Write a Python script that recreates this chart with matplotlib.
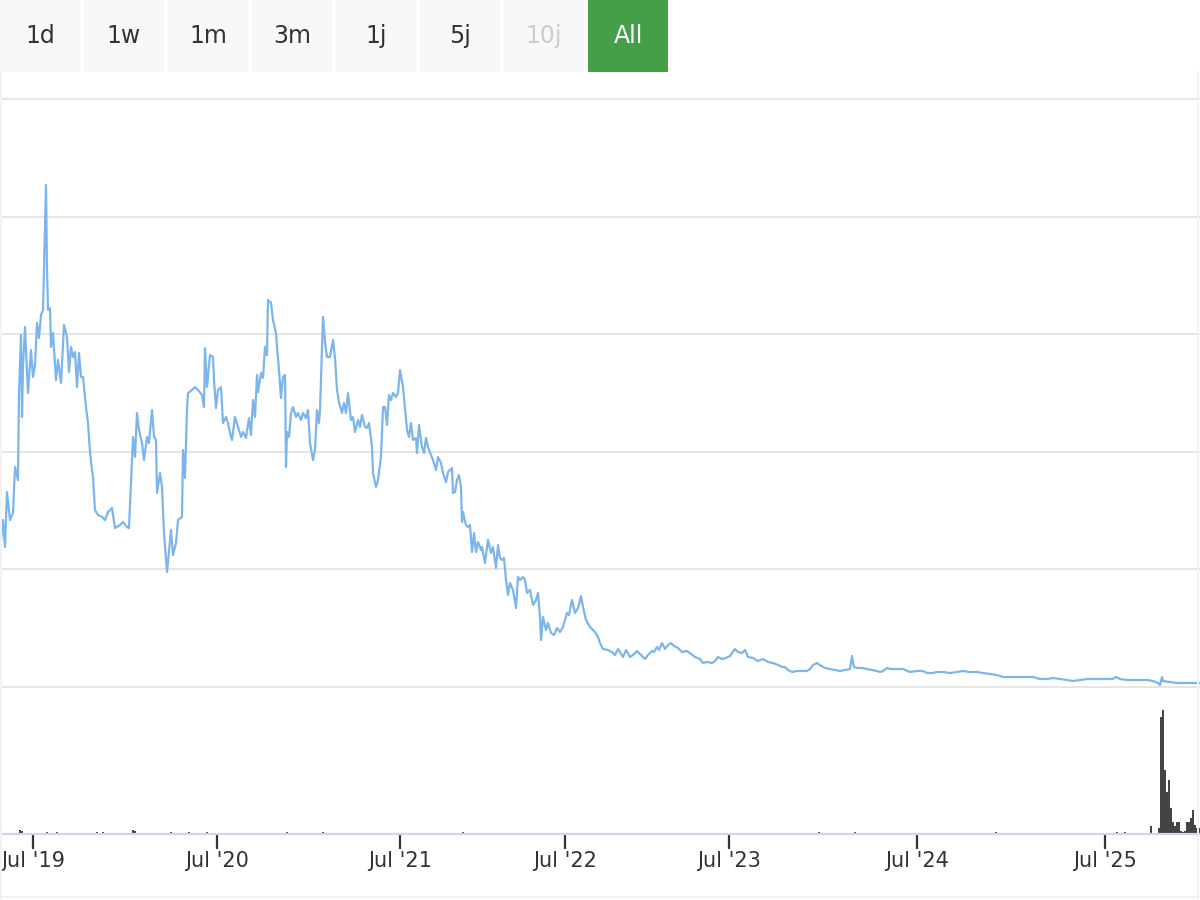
import numpy as np
import matplotlib
matplotlib.use("Agg")
import matplotlib.pyplot as plt
from matplotlib.patches import Rectangle
from matplotlib.lines import Line2D

# ordinal positions (trading-day axis, compressed) and price level (arbitrary units)
obs = [0, 3, 5, 7, 10, 13, 15, 18, 19, 21, 22, 23, 25, 28, 31, 33, 35, 37, 39, 41, 43, 44, 46, 47, 48, 50,
       51, 53, 56, 58, 61, 64, 67, 69, 71, 73, 75, 77, 79, 81, 83, 86, 88, 90, 92, 93, 95, 98, 102, 105, 108,
       112, 115, 120, 123, 127, 129, 131, 133, 135, 137, 139, 142, 144, 147, 149, 152, 154, 156, 157, 160,
       162, 164, 167, 168, 171, 173, 176, 178, 182, 183, 185, 187, 188, 192, 195, 198,
       202, 204, 205, 207, 210, 213, 214, 216, 218, 221, 223, 226, 228, 230, 232, 235, 238, 241, 243, 246,
       249, 251, 253, 255, 257, 258, 261, 263, 265, 267, 268, 271, 273, 276, 277, 279, 281, 283, 285, 286,
       287, 289, 291, 293, 296, 298, 301, 303, 306, 308, 310, 313, 315, 317, 319, 320, 322, 323, 325, 327,
       330, 333, 335, 337, 339, 342, 344, 346, 348, 351, 353, 355, 358, 360, 362, 365, 367, 369, 372, 373,
       376, 378, 381, 383, 385, 387, 389, 391, 393, 396, 398, 400,
       403, 405, 407, 409, 411, 413, 416, 417, 419, 422, 424, 426, 428, 431, 433, 436, 438, 441, 443, 446,
       448, 452, 453, 455, 457, 459, 461, 462, 463, 466, 468, 470, 472, 474, 476, 478, 481, 482, 485, 488,
       491, 493, 496, 498, 500, 502, 504, 506, 508, 510, 513, 516, 518, 520, 523, 525, 527, 530, 533, 536,
       538, 540, 541, 543, 546, 548, 551, 554, 557, 560, 563, 567, 569, 572, 575, 578, 581, 583, 586, 590,
       595, 598,
       600, 603, 608, 612, 615, 618, 623, 626, 630, 633, 637, 640, 645, 648, 652, 654, 657, 659, 662, 665,
       668, 671, 674, 678, 682, 687, 691, 695, 700, 703, 707, 712, 715, 718, 722, 726, 730, 735, 738, 742,
       745, 748, 753, 758, 763, 768, 773, 778, 782, 785, 788, 792, 797, 802, 807, 810, 813, 817, 820, 825,
       830, 835, 840, 845, 850, 852, 854, 857, 862, 867, 872, 877,
       880, 883, 887, 890, 897, 903, 910, 917, 923, 927, 933, 937, 943, 950, 957, 963, 970, 977, 983, 990,
       997, 1003, 1008, 1013, 1020, 1027, 1033, 1040, 1047, 1053, 1060, 1067, 1073, 1080, 1087, 1093, 1100,
       1107, 1113, 1116, 1120, 1127, 1133, 1140, 1147, 1153, 1158, 1160, 1162, 1163, 1170, 1177, 1183, 1190,
       1195, 1200]
price = [137, 167, 140, 195, 167, 174, 220, 207, 294, 352, 270, 320, 360, 294, 337, 310, 322, 364, 349, 372,
         377, 420, 502, 417, 377, 379, 340, 354, 307, 327, 304, 362, 350, 315, 340, 330, 335, 300, 334, 310,
         310, 280, 264, 235, 217, 210, 177, 172, 170, 167, 175, 179, 159, 162, 165, 160, 159, 204, 250, 230,
         274, 257, 244, 227, 250, 244, 277, 250, 247, 194, 214, 200, 154, 115, 125, 157, 132, 144, 167, 170,
         237, 209, 277, 294, 297, 300, 297,
         292, 280, 339, 300, 332, 330, 307, 279, 297, 300, 264, 270, 264, 254, 247, 270, 260, 250, 255, 249,
         269, 252, 287, 270, 312, 295, 314, 309, 340, 332, 387, 384, 367, 354, 340, 317, 289, 310, 312, 220,
         255, 250, 274, 280, 270, 274, 267, 274, 269, 277, 244, 227, 237, 277, 264, 277, 337, 370, 345, 330,
         330, 347, 329, 297, 285, 274, 284, 274, 294, 267, 270, 255, 267, 260, 272, 260, 259, 264, 240, 214,
         200, 207, 230, 280, 280, 262, 292, 287, 294, 290, 294, 317,
         300, 279, 257, 250, 264, 247, 249, 234, 262, 240, 234, 249, 240, 232, 227, 217, 230, 224, 214, 205,
         215, 219, 194, 195, 207, 212, 200, 165, 175, 162, 160, 162, 135, 154, 135, 145, 137, 140, 124, 147,
         134, 140, 119, 142, 129, 127, 129, 107, 92, 104, 97, 79, 110, 107, 110, 107, 94, 97, 82, 87,
         94, 70, 47, 70, 57, 64, 54, 52, 59, 55, 60, 74, 72, 87, 74, 79, 91, 80, 67, 60,
         55, 50,
         44, 38, 37, 35, 32, 38, 30, 37, 30, 32, 36, 33, 28, 32, 36, 35, 40, 37, 44, 38,
         42, 44, 41, 39, 35, 36, 33, 30, 28, 24, 25, 24, 26, 30, 28, 29, 31, 38, 35, 34,
         37, 30, 29, 26, 28, 25, 24, 22, 20, 20, 17, 15, 16, 16, 16, 18, 22, 24, 22, 19,
         18, 17, 16, 17, 18, 31, 20, 19, 19, 18, 17, 16,
         15, 16, 19, 18, 18, 18, 15, 16, 16, 14, 14, 15, 15, 14, 15, 16, 15, 15, 14, 13,
         12, 10, 10, 10, 10, 10, 10, 8, 8, 9, 8, 7, 6, 7, 8, 8, 8,
         8, 8, 10, 8, 7, 7, 7, 7, 6, 4, 2, 10, 6, 5, 4, 4, 4,
         4, 4]

vol_obs = [20, 22, 47, 57, 97, 103, 133, 135, 171, 189, 207, 287, 323, 463, 819, 855, 996, 1117, 1125,
           1151, 1159, 1161, 1163, 1165, 1167, 1169, 1171, 1173, 1175, 1177, 1179, 1181, 1183, 1185,
           1187, 1189, 1191, 1193, 1195, 1197, 1199]
volume = [4, 3, 2, 2, 2, 2, 4, 3, 2, 2, 2, 2, 2, 2, 2, 2, 2, 2, 2,
          8, 6, 117, 124, 64, 42, 54, 26, 12, 8, 12, 12, 3, 2, 3,
          12, 12, 16, 24, 9, 6, 6]

jul_obs = [33, 217, 400, 565, 729, 917, 1105]
jul_labels = ["Jul '19", "Jul '20", "Jul '21", "Jul '22", "Jul '23", "Jul '24", "Jul '25"]

buttons = ["1d", "1w", "1m", "3m", "1j", "5j", "10j", "All"]
selected = "All"
disabled = ["10j"]

W, H = 1200, 900
fig = plt.figure(figsize=(W / 100, H / 100), dpi=100)
fig.patch.set_facecolor("white")


def box(x0, y0, x1, y1):
    # pixel box (top-left origin) -> figure fraction rect
    return [x0 / W, 1 - y1 / H, (x1 - x0) / W, (y1 - y0) / H]


# price panel
ax = fig.add_axes(box(0, 90, 1200, 690))
step = 117.6
ax.set_ylim(687 - 690, 687 - 90)
ax.set_xlim(0, 1200)
for k in range(6):
    ax.axhline(k * step, color="#e6e6e6", lw=1.4, zorder=1)
ax.plot(obs, price, color="#7cb5ec", lw=1.6, zorder=3, solid_joinstyle="round")
ax.axis("off")

# volume panel
axv = fig.add_axes(box(0, 700, 1200, 834), sharex=ax)
axv.bar(vol_obs, volume, width=2.0, color="#434348", linewidth=0, align="center")
axv.set_ylim(0, 134)
axv.set_xlim(0, 1200)
for s in ["top", "left", "right"]:
    axv.spines[s].set_visible(False)
axv.spines["bottom"].set_color("#ccd6eb")
axv.spines["bottom"].set_linewidth(1.6)
axv.set_yticks([])
axv.set_xticks(jul_obs)
axv.set_xticklabels(jul_labels, fontsize=15, color="#333333", family="DejaVu Sans")
axv.tick_params(axis="x", length=11, width=1.6, color="#333333", pad=1)
axv.patch.set_alpha(0)

# range selector buttons
bx = 0
for b in buttons:
    if b == selected:
        fc, tc = "#43a047", "white"
    elif b in disabled:
        fc, tc = "#f7f8fa", "#cccccc"
    else:
        fc, tc = "#f7f8fa", "#333333"
    r = box(bx, 0, bx + 80, 72)
    fig.patches.append(Rectangle((r[0], r[1]), r[2], r[3], transform=fig.transFigure,
                                 facecolor=fc, edgecolor="none"))
    fig.text(r[0] + r[2] / 2, r[1] + r[3] / 2, b, ha="center", va="center",
             fontsize=17, color=tc, family="DejaVu Sans")
    bx += 84

# container frame
for (x0, y0, x1, y1) in [(1, 72, 1, 900), (0, 897, 1200, 897), (1198, 72, 1198, 900)]:
    fig.add_artist(Line2D([x0 / W, x1 / W], [1 - y0 / H, 1 - y1 / H],
                          transform=fig.transFigure, color="#f3f3f3", lw=1.4))

fig.savefig("out.png", dpi=100)
